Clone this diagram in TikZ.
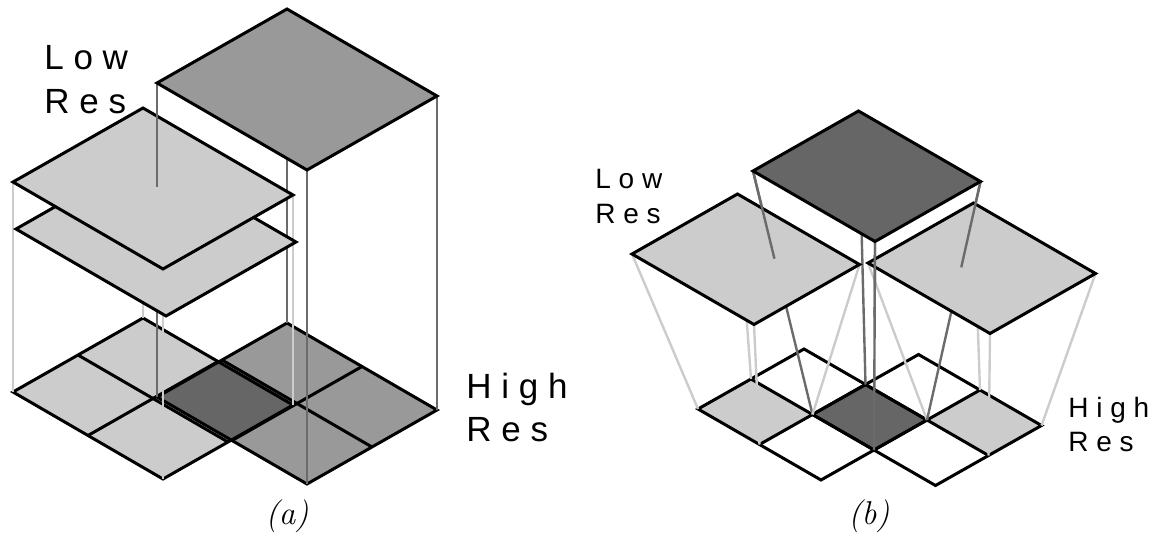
\documentclass[tikz,border=0pt]{standalone}
\usepackage{fontspec}
\newfontfamily\resfont{Liberation Sans}
\usetikzlibrary{calc}

\begin{document}
\begin{tikzpicture}[x=0.5pt, y=-0.5pt,
    tile/.style={draw, line width=1.5pt},
    riser/.style={line width=1.2pt, black!20},
    dropper/.style={line width=1.2pt, black!58},
    reslabel/.style={font=\resfont\fontsize{17.5}{21}\selectfont, inner sep=0pt, anchor=base west},
    smallres/.style={reslabel, font=\resfont\fontsize{14}{17}\selectfont},
    caption/.style={font=\fontsize{16.5}{20}\selectfont\itshape, inner sep=0pt, anchor=base}
]
\useasboundingbox (0,0) rectangle (1155,535);

% (a)
\coordinate (lofloor) at (13,392);
\coordinate (hifloor) at (157,397);
\coordinate (lotop) at (13,182);
\coordinate (lomid) at (16,229);
\coordinate (hitop) at (157,83);

\fill[black!20] (lofloor) -- ++(130,-74) -- ++(150,87) -- ++(-130,74) -- cycle;
\fill[black!40] (hifloor) -- ++(130,-74) -- ++(150,87) -- ++(-130,74) -- cycle;
\begin{scope}
  \clip (lofloor) -- ++(130,-74) -- ++(150,87) -- ++(-130,74) -- cycle;
  \fill[black!60] (hifloor) -- ++(65,-37) -- ++(75,43.5) -- ++(-65,37) -- cycle;
\end{scope}
\foreach \fl in {lofloor,hifloor} {
  \draw[tile] (\fl) -- ++(130,-74) -- ++(150,87) -- ++(-130,74) -- cycle;
  \draw[tile] ($(\fl)+(75,43.5)$) -- ++(130,-74);
  \draw[tile] ($(\fl)+(65,-37)$) -- ++(150,87);
}

\foreach \dx/\dy [count=\k] in {0/0,130/-74,280/13,150/87} {
  \coordinate (hic\k) at ($(hitop)+(\dx,\dy)$);
  \draw[riser] ($(lotop)+(\dx,\dy)$) -- ++(0,210);
  \draw[dropper] (hic\k) -- ++(0,314);
}

\filldraw[tile, fill=black!20] (lomid) -- ++(130,-74) -- ++(150,87) -- ++(-130,74) -- cycle;
\filldraw[tile, fill=black!20] (lotop) -- ++(130,-74) -- ++(150,87) -- ++(-130,74) -- cycle;
\foreach \k in {1,...,4}
  \draw[dropper] (hic\k) -- ++(0,104);
\filldraw[tile, fill=black!40] (hitop) -- ++(130,-74) -- ++(150,87) -- ++(-130,74) -- cycle;

\node[reslabel] (lowa) at (44,69) {L o w};
\node[reslabel] (resa) at (44,113) {R e s};
\node[reslabel] (higha) at (466,398) {H i g h};
\node[reslabel] (resha) at (466,441) {R e s};
\node[caption] (capa) at (287,524) {(a)};

% (b)
\coordinate (fl) at (698,409);
\coordinate (fm) at (812.5,414.5);
\coordinate (fr) at (927,420);
\coordinate (ra) at (632,254);
\coordinate (rb) at (868,263);
\coordinate (rd) at (753,171);

\foreach \c/\g in {fl/20,fm/60,fr/20}
  \fill[black!\g] (\c) -- ++(53,-30) -- ++(61.5,35.5) -- ++(-53,30) -- cycle;
\foreach \bl in {fl,fm} {
  \draw[tile] (\bl) -- ++(106,-60) -- ++(123,71) -- ++(-106,60) -- cycle;
  \draw[tile] ($(\bl)+(61.5,35.5)$) -- ++(106,-60);
  \draw[tile] ($(\bl)+(53,-30)$) -- ++(123,71);
}

\foreach \rx/\ry/\cx/\cy [count=\k] in {0/0/0/0, 105.5/-60/53/-30, 227.5/10.5/114.5/5.5, 122/70.5/61.5/35.5} {
  \coordinate (dtop\k) at ($(rd)+(\rx,\ry)$);
  \coordinate (dbot\k) at ($(fm)+(\cx,\cy)$);
  \draw[riser] ($(ra)+(\rx,\ry)$) -- ($(fl)+(\cx,\cy)$);
  \draw[riser] ($(rb)+(\rx,\ry)$) -- ($(fr)+(\cx,\cy)$);
  \draw[dropper] (dtop\k) -- (dbot\k);
}

\foreach \r in {ra,rb}
  \filldraw[tile, fill=black!20] (\r) -- ++(105.5,-60) -- ++(122,70.5) -- ++(-105.5,60) -- cycle;
\foreach \k in {1,...,4}
  \draw[dropper] (dtop\k) -- ($(dtop\k)!0.36!(dbot\k)$);
\filldraw[tile, fill=black!60] (rd) -- ++(105.5,-60) -- ++(122,70.5) -- ++(-105.5,60) -- cycle;

\node[smallres] (lowb) at (595,188) {L o w};
\node[smallres] (resb) at (595,223) {R e s};
\node[smallres] (highb) at (1068,417) {H i g h};
\node[smallres] (reshb) at (1068,451) {R e s};
\node[caption] (capb) at (869,524) {(b)};
\end{tikzpicture}
\end{document}
